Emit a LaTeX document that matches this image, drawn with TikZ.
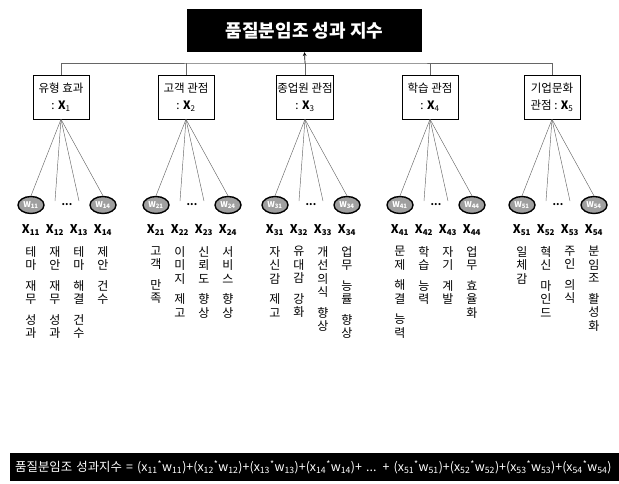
\documentclass[tikz,border=0pt]{standalone}
\usepackage{fontspec}
\setmainfont{Noto Sans CJK KR}
\usepackage{tikz}
\usetikzlibrary{arrows,shapes,positioning}
\tikzstyle{catbox}=[draw, line width=0.6pt, minimum width=56pt,
                    minimum height=44pt, inner sep=1pt, align=center,
                    font=\fontsize{11.5}{17}\selectfont]
\tikzstyle{wnode} =[ellipse, draw, fill=gray!75, line width=1.4pt,
                    minimum width=26pt, minimum height=17pt,
                    inner sep=0pt, text=white,
                    font=\fontsize{8}{8}\selectfont\bfseries]
\tikzstyle{fan}   =[black!60, line width=0.45pt]
\tikzstyle{xlab}  =[inner sep=0pt, font=\fontsize{12}{12}\selectfont\bfseries]
\tikzstyle{vtext} =[anchor=north, align=center, inner sep=0pt,
                    font=\fontsize{12}{13.5}\selectfont]
\newcommand{\xw}[1]{(x\textsubscript{#1}\textsuperscript{*}w\textsubscript{#1})}

\begin{document}
\begin{tikzpicture}[x=1pt,y=-1pt]
    \useasboundingbox (0,0) rectangle (619,483);

    \node[fill=black, text=white, minimum width=235pt, minimum height=43pt,
          font=\fontsize{18}{20}\selectfont\bfseries] (title) at (304.5,30.5)
          {품질분임조 성과 지수};
    \coordinate (bus) at (305,63);

    \node[catbox] (x1) at (61,97)  {유형 효과\\: \textbf{X}\textsubscript{1}};
    \node[catbox] (x2) at (186,97) {고객 관점\\: \textbf{X}\textsubscript{2}};
    \node[catbox] (x3) at (305,97) {종업원 관점\\: \textbf{X}\textsubscript{3}};
    \node[catbox] (x4) at (430,97) {학습 관점\\: \textbf{X}\textsubscript{4}};
    \node[catbox] (x5) at (552,97) {기업문화\\관점 : \textbf{X}\textsubscript{5}};

    \draw [fan] (x1.north) |- (bus) -| (x5.north);
    \foreach \i in {2,3,4}
        \draw [fan] (x\i.north) -- (x\i.north |- bus);
    \draw [->, >=stealth, line width=0.7pt] (bus) -- (title.south);

    \foreach \g/\cx in {1/61,2/186,3/305,4/430,5/552}{
        \node[wnode] (w\g1) at (\cx-30,205) {W\textsubscript{\g1}};
        \node[wnode] (w\g4) at (\cx+42,205) {W\textsubscript{\g4}};
        \coordinate (e\g2) at (\cx-6,201);
        \coordinate (e\g3) at (\cx+18,201);
        \node[inner sep=0pt, font=\fontsize{10}{10}\selectfont\bfseries] (d\g) at (\cx+6,205) {...};
        \foreach \j/\dx in {1/-30,2/-6,3/18,4/42}
            \node[xlab] (l\g\j) at (\cx+\dx,230) {X\textsubscript{\g\j}};
        \foreach \t in {w\g1.north,e\g2,e\g3,w\g4.north}
            \draw [fan] (x\g.south) -- (\t);
    }

    % vertical item texts
    \node[vtext] (t11) at (31,246)  {테\\마\\[7pt]재\\무\\[7pt]성\\과};
    \node[vtext] (t12) at (55,246)  {재\\안\\[7pt]재\\무\\[7pt]성\\과};
    \node[vtext] (t13) at (79,246)  {테\\마\\[7pt]해\\결\\[7pt]건\\수};
    \node[vtext] (t14) at (103,246) {제\\안\\[7pt]건\\수};
    \node[vtext] (t21) at (156,246) {고\\객\\[7pt]만\\족};
    \node[vtext] (t22) at (180,246) {이\\미\\지\\[7pt]제\\고};
    \node[vtext] (t23) at (204,246) {신\\뢰\\도\\[7pt]향\\상};
    \node[vtext] (t24) at (228,246) {서\\비\\스\\[7pt]향\\상};
    \node[vtext] (t31) at (275,246) {자\\신\\감\\[7pt]제\\고};
    \node[vtext] (t32) at (299,246) {유\\대\\감\\[7pt]강\\화};
    \node[vtext] (t33) at (323,246) {개\\선\\의\\식\\[7pt]향\\상};
    \node[vtext] (t34) at (347,246) {업\\무\\[7pt]능\\률\\[7pt]향\\상};
    \node[vtext] (t41) at (400,246) {문\\제\\[7pt]해\\결\\[7pt]능\\력};
    \node[vtext] (t42) at (424,246) {학\\습\\[7pt]능\\력};
    \node[vtext] (t43) at (448,246) {자\\기\\[7pt]계\\발};
    \node[vtext] (t44) at (472,246) {업\\무\\[7pt]효\\율\\화};
    \node[vtext] (t51) at (522,246) {일\\체\\감};
    \node[vtext] (t52) at (546,246) {혁\\신\\[7pt]마\\인\\드};
    \node[vtext] (t53) at (570,246) {주\\인\\[7pt]의\\식};
    \node[vtext] (t54) at (594,246) {분\\임\\조\\[7pt]활\\성\\화};

    % formula bar
    \node[fill=black, text=white, anchor=north west, minimum width=609pt,
          minimum height=28pt, inner xsep=5pt, inner ysep=0pt,
          text width=599pt, align=left,
          font=\fontsize{12.4}{14}\selectfont] (formula) at (10,453)
          {\mbox{품질분임조 성과지수 = \xw{11}+\xw{12}+\xw{13}+\xw{14}+ ... +
           \xw{51}+\xw{52}+\xw{53}+\xw{54}}};
\end{tikzpicture}
\end{document}
